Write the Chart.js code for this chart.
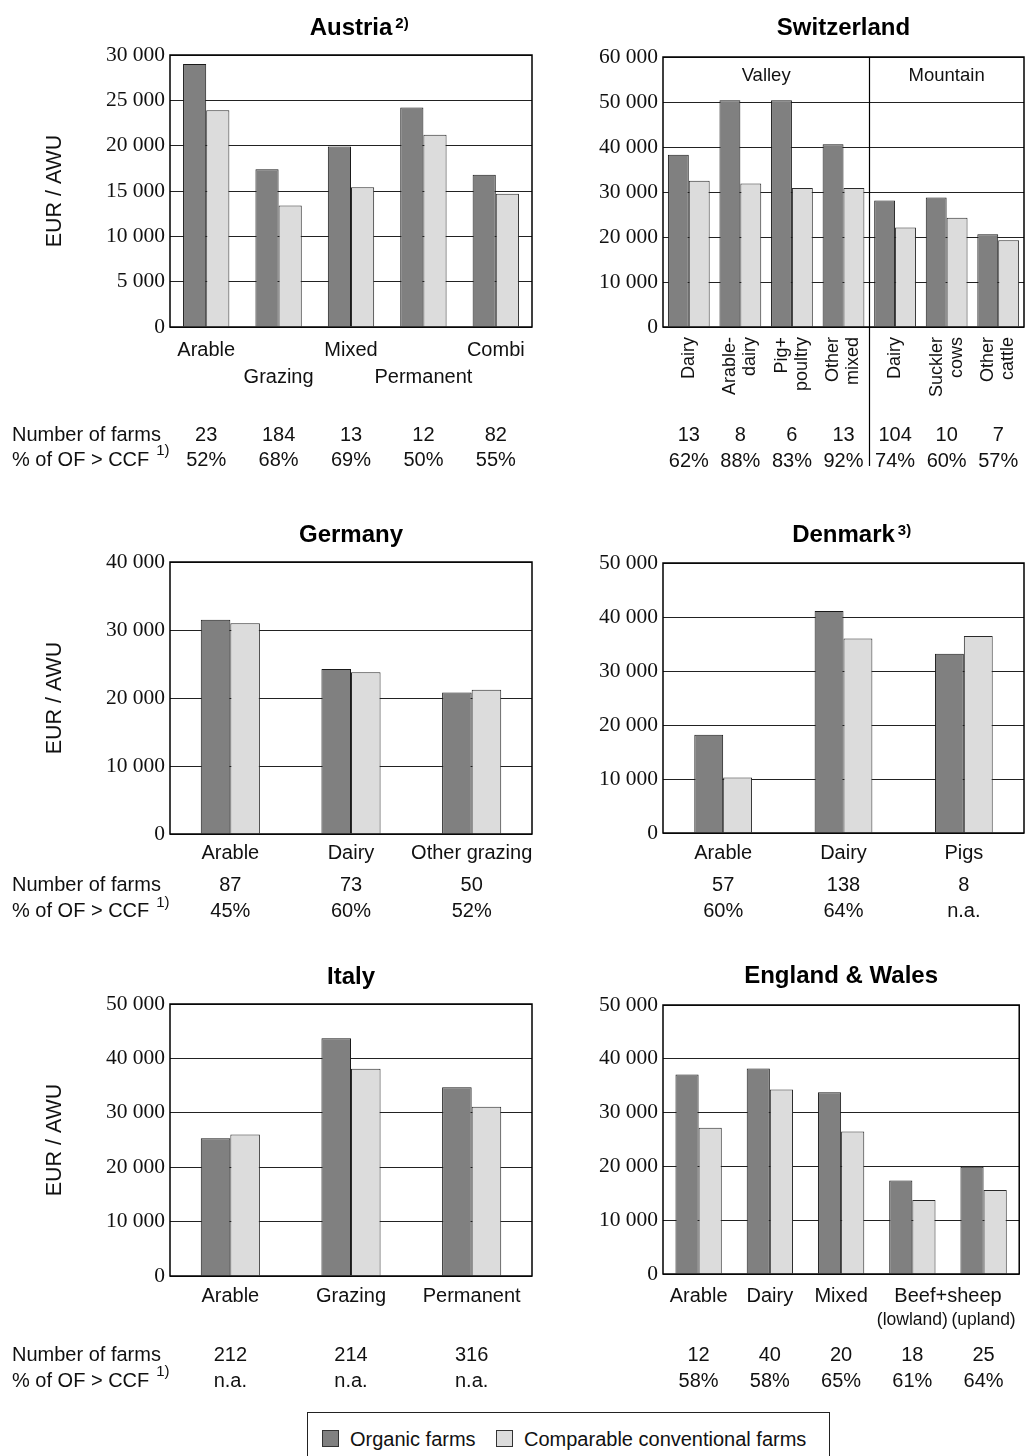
<!DOCTYPE html>
<html>
<head>
<meta charset="utf-8">
<title>Income per AWU – organic vs. comparable conventional farms</title>
<script src="https://cdn.jsdelivr.net/npm/chart.js@4.4.1/dist/chart.umd.min.js"></script>
<style>
  html, body { margin: 0; padding: 0; background: #fff; }
  body { width: 1027px; height: 1456px; position: relative; overflow: hidden;
         font-family: "Liberation Sans", Arial, sans-serif; color: #111; }
  canvas { position: absolute; }
  #legend { position: absolute; left: 307px; top: 1412px; width: 523px; height: 60px;
            border: 1.5px solid #222; box-sizing: border-box; background: #fff; }
  #legend .sw { position: absolute; top: 17px; width: 17px; height: 17px;
                border: 1px solid #333; box-sizing: border-box; }
  #legend .lt { position: absolute; top: 14px; font-size: 20px; line-height: 24px; white-space: nowrap; }
</style>
</head>
<body>
<canvas id="austria"     width="545" height="480" style="left:0px;top:0px"></canvas>
<canvas id="switzerland" width="482" height="480" style="left:545px;top:0px"></canvas>
<canvas id="germany"     width="545" height="460" style="left:0px;top:480px"></canvas>
<canvas id="denmark"     width="482" height="460" style="left:545px;top:480px"></canvas>
<canvas id="italy"       width="545" height="470" style="left:0px;top:930px"></canvas>
<canvas id="england"     width="482" height="470" style="left:545px;top:930px"></canvas>
<div id="legend"></div>

<script>
// ---- Series and shared text ----
const seriesNames = ['Organic farms', 'Comparable conventional farms'];
const yAxisTitle = 'EUR / AWU';
const rowHeads = ['Number of farms', '% of OF > CCF'];
const rowHeadNote = '1)';

// ---- Austria ----
const austriaLabels = [['Arable', ''], ['', 'Grazing'], ['Mixed', ''], ['', 'Permanent'], ['Combi', '']];
const austriaOrganic = [29000, 17400, 19900, 24200, 16800];
const austriaConventional = [23900, 13400, 15400, 21200, 14700];
const austriaFarms = ['23', '184', '13', '12', '82'];
const austriaShare = ['52%', '68%', '69%', '50%', '55%'];
const austriaAxis = [0, 30000, 5000];

// ---- Switzerland ----
const swissLabels = [['Dairy'], ['Arable-', 'dairy'], ['Pig+', 'poultry'], ['Other', 'mixed'],
                     ['Dairy'], ['Suckler', 'cows'], ['Other', 'cattle']];
const swissOrganic = [38300, 50400, 50400, 40600, 28100, 28800, 20600];
const swissConventional = [32500, 31900, 30900, 30900, 22100, 24300, 19300];
const swissFarms = ['13', '8', '6', '13', '104', '10', '7'];
const swissShare = ['62%', '88%', '83%', '92%', '74%', '60%', '57%'];
const swissZones = ['Valley', 'Mountain'];
const swissZoneSplit = 4;            // first Mountain category
const swissAxis = [0, 60000, 10000];

// ---- Germany ----
const germanyLabels = ['Arable', 'Dairy', 'Other grazing'];
const germanyOrganic = [31500, 24250, 20800];
const germanyConventional = [31000, 23800, 21200];
const germanyFarms = ['87', '73', '50'];
const germanyShare = ['45%', '60%', '52%'];
const germanyAxis = [0, 40000, 10000];

// ---- Denmark ----
const denmarkLabels = ['Arable', 'Dairy', 'Pigs'];
const denmarkOrganic = [18200, 41100, 33200];
const denmarkConventional = [10300, 36000, 36500];
const denmarkFarms = ['57', '138', '8'];
const denmarkShare = ['60%', '64%', 'n.a.'];
const denmarkAxis = [0, 50000, 10000];

// ---- Italy ----
const italyLabels = ['Arable', 'Grazing', 'Permanent'];
const italyOrganic = [25300, 43700, 34700];
const italyConventional = [26000, 38100, 31100];
const italyFarms = ['212', '214', '316'];
const italyShare = ['n.a.', 'n.a.', 'n.a.'];
const italyAxis = [0, 50000, 10000];

// ---- England & Wales ----
const englandLabels = ['Arable', 'Dairy', 'Mixed', ['', '(lowland)'], ['', '(upland)']];
const englandGroup = ['Beef+sheep', 3, 4];   // text, first and last category it spans
const englandOrganic = [37100, 38200, 33800, 17400, 19950];
const englandConventional = [27200, 34300, 26500, 13750, 15600];
const englandFarms = ['12', '40', '20', '18', '25'];
const englandShare = ['58%', '58%', '65%', '61%', '64%'];
const englandAxis = [0, 50000, 10000];

// ---- Styling ----
const SANS = '"Liberation Sans", Arial, Helvetica, sans-serif';
const SERIF = '"Liberation Serif", "Times New Roman", serif';
const INK = '#111';
const ORGANIC_FILL = '#808080';
const CONVENTIONAL_FILL = '#dcdcdc';

function thousands(v) {
  return v === 0 ? '0' : Math.round(v / 1000) + ' 000';
}

function makePanel(c) {
  const el = document.getElementById(c.id);

  const decor = {
    id: 'decor_' + c.id,
    afterDatasetsDraw(chart) {
      const { ctx, chartArea: a } = chart;
      const x = chart.scales.x;
      ctx.save();
      // plot frame
      ctx.strokeStyle = '#000';
      ctx.lineWidth = 1.5;
      ctx.strokeRect(a.left, a.top, a.right - a.left, a.bottom - a.top);
      // zone divider and zone captions
      if (c.zones) {
        const split = (x.getPixelForValue(c.zoneSplit - 1) + x.getPixelForValue(c.zoneSplit)) / 2;
        const sx = Math.round(split) + 0.5;
        ctx.lineWidth = 1.2;
        ctx.beginPath();
        ctx.moveTo(sx, a.top);
        ctx.lineTo(sx, c.dividerBottom);
        ctx.stroke();
        ctx.font = '18.5px ' + SANS;
        ctx.fillStyle = INK;
        ctx.textAlign = 'center';
        ctx.textBaseline = 'middle';
        ctx.fillText(c.zones[0], (a.left + split) / 2, c.zoneY);
        ctx.fillText(c.zones[1], (split + a.right) / 2, c.zoneY);
      }
      ctx.restore();
    },
    afterDraw(chart) {
      const { ctx, chartArea: a } = chart;
      const x = chart.scales.x;
      ctx.save();

      // panel title with optional footnote mark
      const cx = (a.left + a.right) / 2;
      ctx.font = 'bold 24px ' + SANS;
      ctx.textAlign = 'center';
      ctx.textBaseline = 'middle';
      ctx.fillStyle = '#000';
      ctx.fillText(c.title, cx, c.titleY);
      if (c.titleNote) {
        const w = ctx.measureText(c.title).width;
        ctx.font = 'bold 15px ' + SANS;
        ctx.textAlign = 'left';
        ctx.fillText(c.titleNote, cx + w / 2 + 3, c.titleY - 4);
      }
      ctx.fillStyle = INK;

      // vertical category captions
      if (c.rotated) {
        ctx.font = '18px ' + SANS;
        ctx.textAlign = 'right';
        ctx.textBaseline = 'middle';
        c.labels.forEach((lines, i) => {
          const px = x.getPixelForValue(i);
          lines.forEach((t, j) => {
            ctx.save();
            ctx.translate(px + (j - (lines.length - 1) / 2) * 20, a.bottom + 10);
            ctx.rotate(-Math.PI / 2);
            ctx.fillText(t, 0, 0);
            ctx.restore();
          });
        });
      }

      // caption shared by several categories
      if (c.group) {
        const gx = (x.getPixelForValue(c.group[1]) + x.getPixelForValue(c.group[2])) / 2;
        ctx.font = '20px ' + SANS;
        ctx.textAlign = 'center';
        ctx.textBaseline = 'middle';
        ctx.fillText(c.group[0], gx, a.bottom + c.groupDy);
      }

      // table below the chart
      ctx.font = '20px ' + SANS;
      ctx.textAlign = 'center';
      ctx.textBaseline = 'middle';
      c.farms.forEach((t, i) => ctx.fillText(t, x.getPixelForValue(i), c.tableY[0]));
      c.share.forEach((t, i) => ctx.fillText(t, x.getPixelForValue(i), c.tableY[1]));

      if (c.rowHeads) {
        ctx.textAlign = 'left';
        ctx.fillText(rowHeads[0], 12, c.tableY[0]);
        ctx.fillText(rowHeads[1], 12, c.tableY[1]);
        const w = ctx.measureText(rowHeads[1]).width;
        ctx.font = '15px ' + SANS;
        ctx.fillText(rowHeadNote, 12 + w + 7, c.tableY[1] - 9);
      }
      ctx.restore();
    }
  };

  const xTicks = c.rotated
    ? { display: false }
    : {
        autoSkip: false, maxRotation: 0, minRotation: 0,
        padding: c.xPad, color: INK,
        font: c.xFont || { family: SANS, size: 20, lineHeight: c.xLine || '24px' }
      };

  return new Chart(el, {
    type: 'bar',
    data: {
      labels: c.labels,
      datasets: [
        { label: seriesNames[0], data: c.organic, backgroundColor: ORGANIC_FILL,
          borderColor: '#1a1a1a', borderWidth: 1, borderSkipped: 'start',
          categoryPercentage: c.pairWidth, barPercentage: 1 },
        { label: seriesNames[1], data: c.conventional, backgroundColor: CONVENTIONAL_FILL,
          borderColor: '#2a2a2a', borderWidth: 1, borderSkipped: 'start',
          categoryPercentage: c.pairWidth, barPercentage: 1 }
      ]
    },
    options: {
      responsive: false,
      maintainAspectRatio: false,
      animation: false,
      devicePixelRatio: 1,
      events: [],
      layout: { padding: { left: c.padL, right: c.padR, top: c.top, bottom: 0 } },
      plugins: { legend: { display: false }, tooltip: { enabled: false }, title: { display: false } },
      scales: {
        x: {
          grid: { display: false, drawTicks: false },
          border: { display: false },
          ticks: xTicks,
          afterFit: s => { s.height = c.xH; }
        },
        y: {
          min: c.axis[0], max: c.axis[1],
          ticks: { stepSize: c.axis[2], callback: thousands, color: INK, padding: 5,
                   font: { family: SERIF, size: 21.5 } },
          grid: { color: '#222', lineWidth: 1, drawTicks: false },
          border: { display: false },
          title: c.yTitle
            ? { display: true, text: yAxisTitle, color: INK,
                font: { family: SANS, size: 21.5 }, padding: { top: 0, bottom: 0 } }
            : { display: false },
          afterFit: s => { s.width = c.yW; }
        }
      }
    },
    plugins: [decor]
  });
}

// Left column: canvas starts at x = 0, plot from x = 170 to 532
// Right column: canvas starts at x = 545, plot from x = 663 to 1024
makePanel({
  id: 'austria', title: 'Austria', titleNote: '2)', titleY: 28.3,
  labels: austriaLabels, organic: austriaOrganic, conventional: austriaConventional,
  farms: austriaFarms, share: austriaShare, axis: austriaAxis,
  padL: 42, padR: 13, top: 55, yW: 128, xH: 153, yTitle: true,
  pairWidth: 0.64, xPad: 10, xLine: '27px', tableY: [435, 460], rowHeads: true
});

makePanel({
  id: 'switzerland', title: 'Switzerland', titleY: 28.3,
  labels: swissLabels, organic: swissOrganic, conventional: swissConventional,
  farms: swissFarms, share: swissShare, axis: swissAxis,
  padL: 0, padR: 3, top: 57, yW: 118, xH: 153, yTitle: false,
  pairWidth: 0.81, rotated: true, tableY: [435, 461],
  zones: swissZones, zoneSplit: swissZoneSplit, zoneY: 76, dividerBottom: 466
});

makePanel({
  id: 'germany', title: 'Germany', titleY: 55,
  labels: germanyLabels, organic: germanyOrganic, conventional: germanyConventional,
  farms: germanyFarms, share: germanyShare, axis: germanyAxis,
  padL: 42, padR: 13, top: 82, yW: 128, xH: 106, yTitle: true,
  pairWidth: 0.49, xPad: 7.5, tableY: [405.7, 431.5], rowHeads: true
});

makePanel({
  id: 'denmark', title: 'Denmark', titleNote: '3)', titleY: 55,
  labels: denmarkLabels, organic: denmarkOrganic, conventional: denmarkConventional,
  farms: denmarkFarms, share: denmarkShare, axis: denmarkAxis,
  padL: 0, padR: 3, top: 83, yW: 118, xH: 107, yTitle: false,
  pairWidth: 0.48, xPad: 8, tableY: [405.7, 431.5]
});

makePanel({
  id: 'italy', title: 'Italy', titleY: 47.3,
  labels: italyLabels, organic: italyOrganic, conventional: italyConventional,
  farms: italyFarms, share: italyShare, axis: italyAxis,
  padL: 42, padR: 13, top: 74, yW: 128, xH: 124, yTitle: true,
  pairWidth: 0.49, xPad: 8, tableY: [425, 451], rowHeads: true
});

makePanel({
  id: 'england', title: 'England & Wales', titleY: 46.7,
  labels: englandLabels, organic: englandOrganic, conventional: englandConventional,
  farms: englandFarms, share: englandShare, axis: englandAxis,
  padL: 0, padR: 3, top: 75, yW: 118, xH: 126, yTitle: false,
  pairWidth: 0.65, xPad: 11, tableY: [425, 451],
  xFont: ctx => ({ family: SANS, size: ctx.index >= 3 ? 17.5 : 20, lineHeight: '23.3px' }),
  group: englandGroup, groupDy: 22.7
});

// Legend built from the series names
(function buildLegend() {
  const box = document.getElementById('legend');
  const fills = [ORGANIC_FILL, CONVENTIONAL_FILL];
  const swatchX = [14, 188];
  const textX = [42, 216];
  seriesNames.forEach((name, i) => {
    const sw = document.createElement('span');
    sw.className = 'sw';
    sw.style.left = swatchX[i] + 'px';
    sw.style.background = fills[i];
    box.appendChild(sw);
    const t = document.createElement('span');
    t.className = 'lt';
    t.style.left = textX[i] + 'px';
    t.textContent = name;
    box.appendChild(t);
  });
})();
</script>
</body>
</html>
